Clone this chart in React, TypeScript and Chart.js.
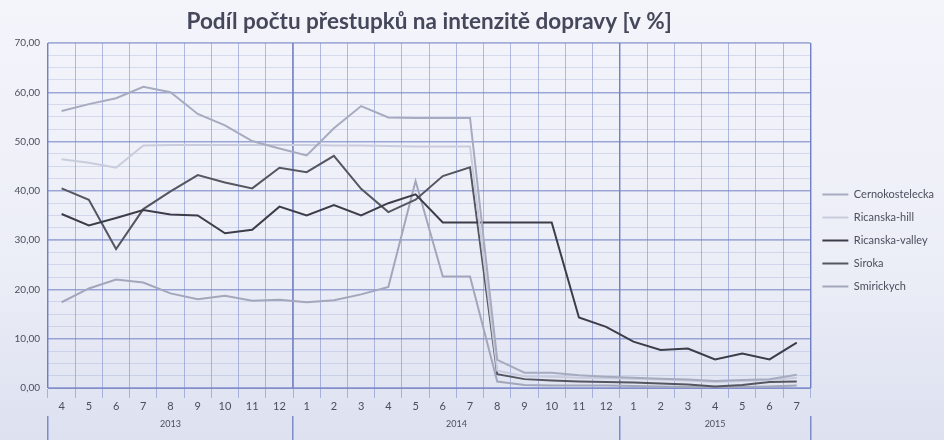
import React, { useEffect, useRef } from 'react';
import { Chart, registerables } from 'chart.js';

Chart.register(...registerables);

const months = ['4', '5', '6', '7', '8', '9', '10', '11', '12', '1', '2', '3', '4', '5', '6', '7', '8', '9', '10', '11', '12', '1', '2', '3', '4', '5', '6', '7'];
const years = ['2013', '2014', '2015'];
const monthsPerYear = [9, 12, 7];

const cernokostelecka = [56.2, 57.6, 58.8, 61.1, 60.0, 55.6, 53.3, 50.1, 48.6, 47.2, 52.7, 57.2, 54.9, 54.8, 54.8, 54.8, 5.7, 3.1, 3.1, 2.6, 2.3, 2.1, 1.9, 1.7, 1.4, 1.6, 1.8, 2.7];
const ricanskaHill = [46.4, 45.7, 44.7, 49.2, 49.3, 49.3, 49.3, 49.3, 49.3, 49.3, 49.2, 49.2, 49.1, 49.0, 49.0, 49.0, 3.5, 2.4, 2.3, 2.1, 2.0, 1.9, 1.7, 1.5, 1.2, 1.4, 1.6, 2.1];
const ricanskaValley = [35.3, 33.0, 34.5, 36.1, 35.2, 35.0, 31.4, 32.1, 36.8, 35.0, 37.1, 35.0, 37.5, 39.3, 33.6, 33.6, 33.6, 33.6, 33.6, 14.3, 12.4, 9.4, 7.7, 8.0, 5.8, 7.0, 5.8, 9.2];
const siroka = [40.5, 38.2, 28.2, 36.3, 39.9, 43.2, 41.7, 40.5, 44.7, 43.8, 47.1, 40.4, 35.7, 38.2, 43.0, 44.8, 2.8, 1.8, 1.5, 1.3, 1.2, 1.1, 0.9, 0.7, 0.3, 0.6, 1.2, 1.3];
const smirickych = [17.4, 20.2, 22.0, 21.4, 19.2, 18.0, 18.7, 17.7, 17.9, 17.4, 17.8, 19.0, 20.5, 42.0, 22.6, 22.6, 1.3, 0.6, 0.5, 0.5, 0.5, 0.4, 0.3, 0.2, 0.1, 0.2, 0.3, 0.5];

const seriesNames = ['Cernokostelecka', 'Ricanska-hill', 'Ricanska-valley', 'Siroka', 'Smirickych'];
const seriesColors = ['#a7abbf', '#c9ccdc', '#3c3d48', '#55565f', '#a3a7bb'];

const TEXT = '#4b4e5c';
const FONT = 'Lato';

export default function App() {
  const ref = useRef<HTMLCanvasElement | null>(null);

  useEffect(() => {
    if (!ref.current) return;
    // year separator / centre positions derived from months per year
    const bounds: number[] = [-0.5];
    const centers: number[] = [];
    let start = 0;
    monthsPerYear.forEach((n) => {
      centers.push(start + (n - 1) / 2);
      start += n;
      bounds.push(start - 0.5);
    });
    const yearTicks = [...bounds, ...centers].sort((a, b) => a - b);

    const data = [cernokostelecka, ricanskaHill, ricanskaValley, siroka, smirickych];
    const chart = new Chart(ref.current, {
      type: 'line',
      data: {
        labels: months,
        datasets: data.map((d, i) => ({
          label: seriesNames[i],
          data: d,
          borderColor: seriesColors[i],
          backgroundColor: seriesColors[i],
          borderWidth: 2,
          pointRadius: 0,
          tension: 0,
          xAxisID: 'x',
          yAxisID: 'y',
        })),
      },
      options: {
        animation: false,
        responsive: true,
        maintainAspectRatio: false,
        layout: { padding: { left: 0, right: 0, top: 0, bottom: 0 } },
        plugins: {
          title: {
            display: true,
            text: 'Podíl počtu přestupků na intenzitě dopravy [v %]',
            color: '#45485a',
            font: { family: FONT, size: 22.5, weight: 'bold' },
            padding: { top: 8, bottom: 8 },
            fullSize: false,
          },
          legend: {
            position: 'right',
            title: { display: true, text: ' ', font: { size: 10 }, padding: { top: 0, bottom: 29 } },
            labels: {
              usePointStyle: true,
              pointStyle: 'line',
              pointStyleWidth: 26,
              color: TEXT,
              font: { family: FONT, size: 11 },
              padding: 12,
            },
          },
          tooltip: { enabled: false },
        },
        scales: {
          x: {
            type: 'category',
            position: 'bottom',
            offset: true,
            grid: { offset: true, color: 'rgba(110,125,195,0.5)', tickLength: 10, lineWidth: 1 },
            border: { color: 'rgba(110,125,195,0.7)' },
            ticks: { color: TEXT, font: { family: FONT, size: 11 }, padding: 2, maxRotation: 0, autoSkip: false },
            afterFit: (s: any) => { s.height = 28; },
          },
          x2: {
            type: 'linear',
            position: 'bottom',
            min: -0.5,
            max: 27.5,
            afterBuildTicks: (s: any) => { s.ticks = yearTicks.map((v) => ({ value: v })); },
            ticks: {
              color: TEXT,
              font: { family: FONT, size: 9 },
              padding: -21,
              maxRotation: 0,
              autoSkip: false,
              callback: (v: any) => {
                const idx = centers.indexOf(Number(v));
                return idx >= 0 ? years[idx] : '';
              },
            },
            grid: {
              drawOnChartArea: true,
              tickLength: 24,
              color: (ctx: any) => (ctx.tick && bounds.includes(ctx.tick.value) ? 'rgba(95,110,185,0.75)' : 'rgba(0,0,0,0)'),
              lineWidth: 1.5,
            },
            border: { display: false },
            afterFit: (s: any) => { s.height = 24; },
          },
          y: {
            min: 0,
            max: 70,
            ticks: {
              stepSize: 10,
              color: TEXT,
              font: { family: FONT, size: 10 },
              padding: 8,
              callback: (v: any) => Number(v).toFixed(2).replace('.', ','),
            },
            grid: { color: 'rgba(110,125,195,0.6)', lineWidth: 1.5, drawTicks: false },
            border: { display: false },
            afterFit: (s: any) => { s.width = 48; },
          },
          y2: {
            position: 'right',
            min: 0,
            max: 70,
            ticks: { stepSize: 2.5, display: false },
            grid: { color: 'rgba(130,145,205,0.25)', drawTicks: false, lineWidth: 1 },
            border: { display: false },
            afterFit: (s: any) => { s.width = 0; },
          },
        },
      },
    });
    return () => chart.destroy();
  }, []);

  return (
    <div
      style={{
        position: 'fixed',
        left: 0,
        top: 0,
        width: 944,
        height: 440,
        background: 'linear-gradient(180deg, #f4f5fb 0%, #eceef7 60%, #dde1f0 100%)',
      }}
    >
      <canvas ref={ref} />
    </div>
  );
}
